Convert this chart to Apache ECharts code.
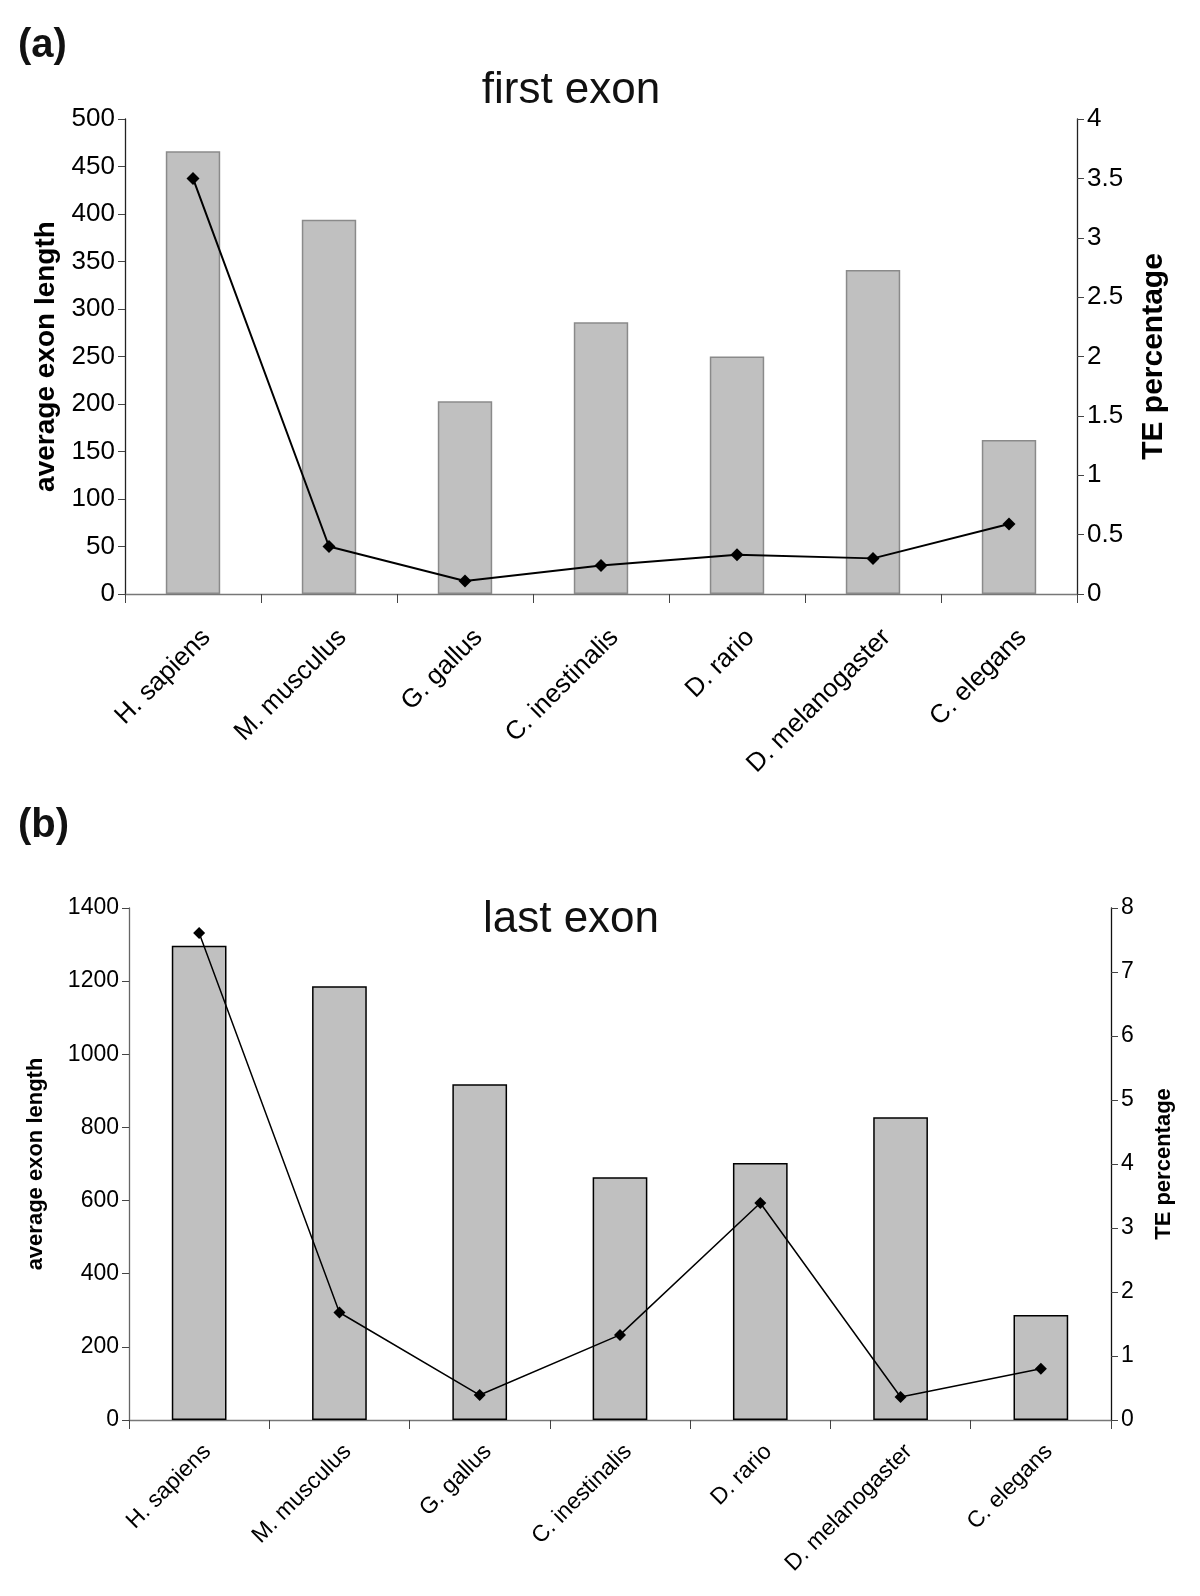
<!DOCTYPE html>
<html>
<head>
<meta charset="utf-8">
<script src="https://cdn.jsdelivr.net/npm/echarts@6/dist/echarts.min.js"></script>
<style>
html,body{margin:0;padding:0;background:#fff;}
#chart{width:1200px;height:1596px;}
</style>
</head>
<body>
<div id="chart"></div>
<script>
const categories = ['H. sapiens','M. musculus','G. gallus','C. inestinalis','D. rario','D. melanogaster','C. elegans'];
const firstExonLength = [466, 394, 203, 286, 250, 341, 162];
const firstExonTE = [3.5, 0.40, 0.11, 0.24, 0.33, 0.30, 0.59];
const lastExonLength = [1297, 1186, 918, 664, 703, 828, 287];
const lastExonTE = [7.61, 1.68, 0.39, 1.33, 3.39, 0.36, 0.80];
// axis ranges: [min, max, interval]
const firstLenAxis = [0, 500, 50];
const firstTEAxis = [0, 4, 0.5];
const lastLenAxis = [0, 1400, 200];
const lastTEAxis = [0, 8, 1];

const FONT = '"Liberation Sans", Arial, sans-serif';

function yAx(gi, r, pos, fs, name, nameFs, gap, lineColor) {
  return {
    type: 'value', gridIndex: gi, position: pos,
    min: r[0], max: r[1], interval: r[2],
    splitLine: {show: false},
    axisLine: {show: true, lineStyle: {color: lineColor, width: 1.3}},
    axisTick: {show: true, length: 7, lineStyle: {color: '#444', width: 1}},
    axisLabel: {color: '#000', fontSize: fs, fontFamily: FONT, margin: 10,
      formatter: function (v) { return String(v); }},
    name: name, nameLocation: 'middle', nameRotate: 90, nameGap: gap,
    nameTextStyle: {color: '#000', fontSize: nameFs, fontWeight: 'bold', fontFamily: FONT}
  };
}
function xAx(gi, fs, margin, pad) {
  return {
    type: 'category', gridIndex: gi, data: categories,
    axisLine: {show: true, lineStyle: {color: '#777', width: 1.3}},
    axisTick: {show: true, length: 9, lineStyle: {color: '#444'}},
    axisLabel: {rotate: 45, color: '#000', fontSize: fs, fontFamily: FONT, margin: margin, interval: 0,
      verticalAlign: 'top', padding: [pad, 0, 0, 0]}
  };
}

const chart = echarts.init(document.getElementById('chart'), null, {renderer: 'canvas'});
chart.setOption({
  backgroundColor: '#fff',
  animation: false,
  title: [
    {text: '(a)', left: 18, top: 26, padding: 0, textStyle: {fontSize: 40, fontWeight: 'bold', fontFamily: FONT, color: '#111'}},
    {text: 'first exon', left: 571, top: 69, padding: 0, textAlign: 'center', textStyle: {fontSize: 44, fontWeight: 'normal', fontFamily: FONT, color: '#111'}},
    {text: '(b)', left: 18, top: 806, padding: 0, textStyle: {fontSize: 40, fontWeight: 'bold', fontFamily: FONT, color: '#111'}},
    {text: 'last exon', left: 571, top: 898, padding: 0, textAlign: 'center', textStyle: {fontSize: 44, fontWeight: 'normal', fontFamily: FONT, color: '#111'}}
  ],
  grid: [
    {left: 125, right: 123, top: 119, height: 475, containLabel: false},
    {left: 129, right: 89, top: 908, height: 512, containLabel: false}
  ],
  xAxis: [xAx(0, 26, 26, 6), xAx(1, 23, 20, 0)],
  yAxis: [
    yAx(0, firstLenAxis, 'left', 26, 'average exon length', 28, 60, '#222'),
    yAx(0, firstTEAxis, 'right', 26, 'TE percentage', 30, 62, '#222'),
    yAx(1, lastLenAxis, 'left', 23, 'average exon length', 22, 82, '#666'),
    yAx(1, lastTEAxis, 'right', 23, 'TE percentage', 22, 42, '#111')
  ],
  series: [
    {type: 'bar', xAxisIndex: 0, yAxisIndex: 0, data: firstExonLength, barWidth: '40%',
     itemStyle: {color: '#c0c0c0', borderColor: '#8a8a8a', borderWidth: 1.5}},
    {type: 'line', xAxisIndex: 0, yAxisIndex: 1, data: firstExonTE, symbol: 'diamond', symbolSize: 13,
     lineStyle: {color: '#000', width: 2}, itemStyle: {color: '#000'}, z: 5},
    {type: 'bar', xAxisIndex: 1, yAxisIndex: 2, data: lastExonLength, barWidth: '39%',
     itemStyle: {color: '#c0c0c0', borderColor: '#000', borderWidth: 1.5}},
    {type: 'line', xAxisIndex: 1, yAxisIndex: 3, data: lastExonTE, symbol: 'diamond', symbolSize: 12,
     lineStyle: {color: '#000', width: 1.5}, itemStyle: {color: '#000'}, z: 5}
  ]
});
</script>
</body>
</html>
